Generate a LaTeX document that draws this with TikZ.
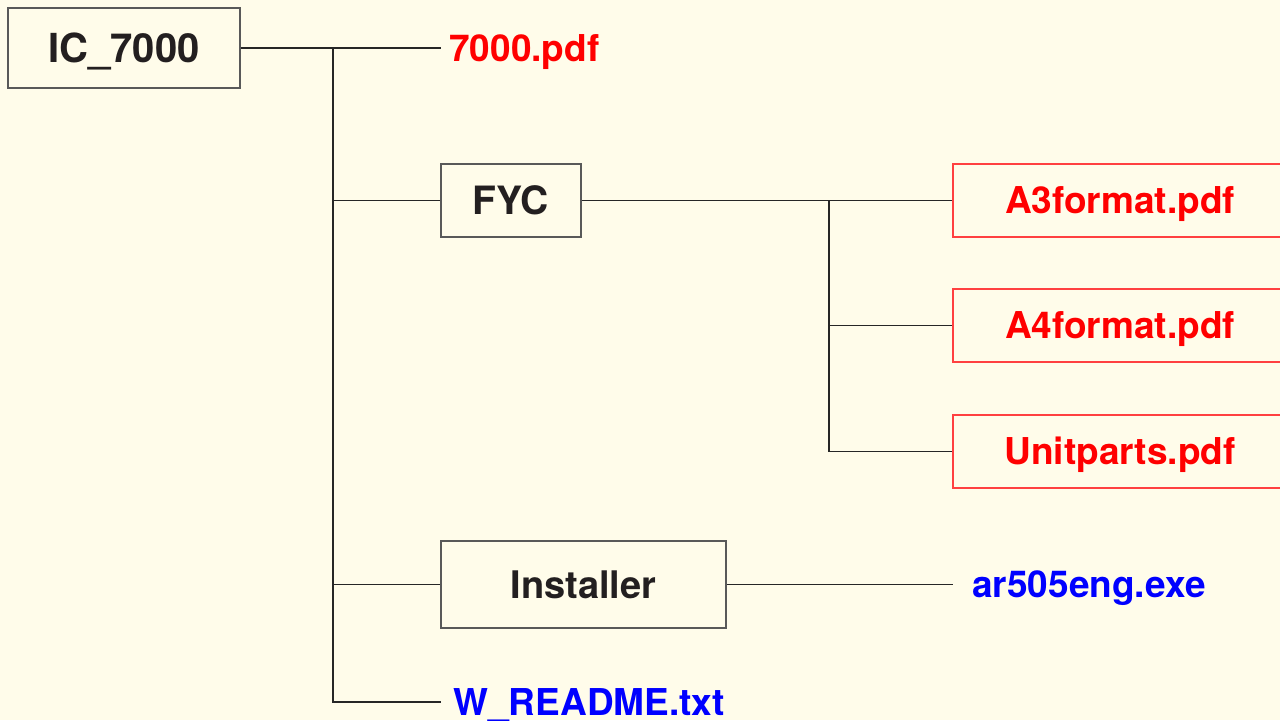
\documentclass[tikz,border=0pt]{standalone}
\usepackage{fontspec}
\setmainfont{TeX Gyre Heros}
\definecolor{paper}{RGB}{255,252,234}
\definecolor{ink}{RGB}{35,31,32}
\definecolor{filered}{RGB}{255,0,0}
\definecolor{fileblue}{RGB}{0,0,255}

\begin{document}
\begin{tikzpicture}[x=0.5pt, y=-0.5pt,
  folder/.style={draw=black!65, line width=0.75pt, inner sep=0pt, text=ink,
    font=\fontsize{19.5}{22}\selectfont\bfseries, text height=14pt, text depth=0pt},
  redbox/.style={draw=red!75, line width=0.6pt, inner sep=0pt, text=filered,
    minimum width=167pt, minimum height=36.5pt,
    font=\fontsize{18.5}{22}\selectfont\bfseries, text height=13.3pt, text depth=0pt},
  file/.style={anchor=west, inner ysep=0pt,
    font=\fontsize{18.5}{22}\selectfont\bfseries, text height=13.3pt, text depth=0pt},
  link/.style={black!85, line width=0.7pt}]
\fill[paper] (0,0) rectangle (1280,720);
\useasboundingbox (0,0) rectangle (1280,720);

% folders
\node[folder, minimum width=116pt, minimum height=40pt, font=\fontsize{20}{24}\selectfont\bfseries, text height=14.4pt] (ic) at (124,48) {IC\_7000};
\node[folder, minimum width=70pt, minimum height=36.5pt] (fyc) at (511,200.5) {FYC};
\node[folder, minimum width=142.5pt, minimum height=43.5pt, font=\fontsize{19}{22}\selectfont\bfseries, text height=13.7pt] (inst) at (583.5,584.5) {Installer};

% files
\node[file, inner xsep=4pt, text=filered] (doc) at (441,48) {7000.pdf};
\node[redbox] (a3) at (1120,200.5) {A3format.pdf};
\node[redbox] (a4) at (1120,325.5) {A4format.pdf};
\node[redbox] (unit) at (1120,451.5) {Unitparts.pdf};
\node[file, inner xsep=9.5pt, text=fileblue] (exe) at (953,584.5) {ar505eng.exe};
\node[file, inner xsep=6pt, text=fileblue] (readme) at (441,702) {W\_README.txt};

% tree lines
\coordinate (trunk) at (333,48);
\coordinate (split) at (829,200.5);
\draw[link] (ic) -- (doc);
\draw[link] (trunk) |- (readme.west);
\draw[link] (trunk |- fyc.west) -- (fyc.west);
\draw[link] (trunk |- inst.west) -- (inst.west);
\draw[link] (fyc) -- (a3);
\draw[link] (split) |- (unit.west);
\draw[link] (split |- a4.west) -- (a4.west);
\draw[link] (inst) -- (exe);
\end{tikzpicture}
\end{document}
